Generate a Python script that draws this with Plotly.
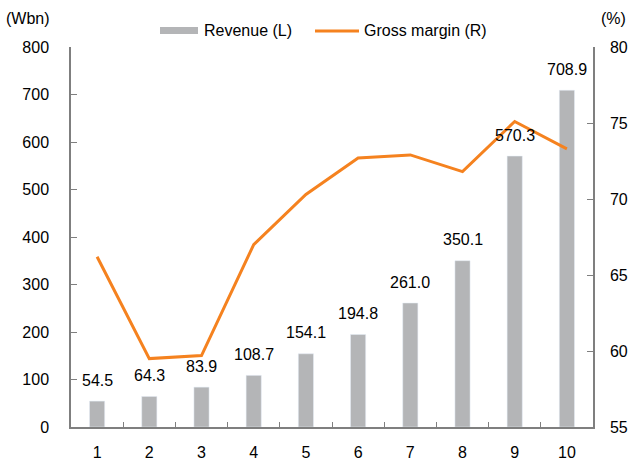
import plotly.graph_objects as go

categories = ["1", "2", "3", "4", "5", "6", "7", "8", "9", "10"]
revenue = [54.5, 64.3, 83.9, 108.7, 154.1, 194.8, 261.0, 350.1, 570.3, 708.9]
gross_margin = [66.2, 59.5, 59.7, 67.0, 70.3, 72.7, 72.9, 71.8, 75.1, 73.3]
left_ticks = [0, 100, 200, 300, 400, 500, 600, 700, 800]
right_ticks = [55, 60, 65, 70, 75, 80]

FONT = "Liberation Sans, Arial, sans-serif"
GRAY = "#b4b5b7"
ORANGE = "#f5821f"
AXIS = "#7f7f7f"

fig = go.Figure()
fig.add_trace(go.Bar(x=categories, y=revenue, marker_color=GRAY, width=0.29,
                     name="Revenue (L)", showlegend=False))
fig.add_trace(go.Scatter(x=categories, y=gross_margin, mode="lines",
                         line=dict(color=ORANGE, width=3), yaxis="y2",
                         name="Gross margin (R)", showlegend=False))

for i, v in enumerate(revenue):
    fig.add_annotation(x=i, y=v, text=f"{v:.1f}", showarrow=False, yshift=21,
                       yanchor="middle",
                       font=dict(size=16, color="#000000", family=FONT))

# legend drawn manually
fig.add_shape(type="rect", xref="paper", yref="paper", x0=(160-71)/522, x1=(198-71)/522,
              y0=(427-34)/380, y1=(427-27)/380, fillcolor=GRAY, line_width=0)
fig.add_annotation(xref="paper", yref="paper", x=(202-71)/522, y=(427-30.5)/380,
                   text="Revenue (L)", showarrow=False, xanchor="left", yanchor="middle",
                   font=dict(size=16, color="#000000", family=FONT))
fig.add_shape(type="line", xref="paper", yref="paper", x0=(315-71)/522, x1=(359-71)/522,
              y0=(427-31)/380, y1=(427-31)/380, line=dict(color=ORANGE, width=3))
fig.add_annotation(xref="paper", yref="paper", x=(362-71)/522, y=(427-30.5)/380,
                   text="Gross margin (R)", showarrow=False, xanchor="left", yanchor="middle",
                   font=dict(size=16, color="#000000", family=FONT))
fig.add_annotation(xref="paper", yref="paper", x=(28-71)/522, y=(427-18)/380,
                   text="(Wbn)", showarrow=False, xanchor="center", yanchor="middle",
                   font=dict(size=16, color="#000000", family=FONT))
fig.add_annotation(xref="paper", yref="paper", x=(613-71)/522, y=(427-18)/380,
                   text="(%)", showarrow=False, xanchor="center", yanchor="middle",
                   font=dict(size=16, color="#000000", family=FONT))

fig.update_layout(
    width=634, height=461,
    margin=dict(l=71, r=41, t=47, b=34, autoexpand=False),
    paper_bgcolor="white", plot_bgcolor="white",
    font=dict(family=FONT, size=16, color="#000000"),
    xaxis=dict(type="category", range=[-0.5, 9.5], showline=True, linecolor=AXIS, linewidth=1.5,
               ticks="inside", tickson="boundaries", ticklen=5, tickcolor=AXIS,
               ticklabelstandoff=10, automargin=False,
               showgrid=False, zeroline=False, tickfont=dict(size=16)),
    yaxis=dict(range=[0, 800], tickvals=left_ticks, showline=True, linecolor=AXIS, linewidth=1.5,
               ticks="inside", ticklen=6, tickcolor=AXIS, showgrid=False, zeroline=False,
               ticklabelstandoff=17, automargin=False, tickfont=dict(size=16)),
    yaxis2=dict(range=[55, 80], tickvals=right_ticks, overlaying="y", side="right",
                showline=True, linecolor=AXIS, linewidth=1.5, ticks="inside", ticklen=6,
                ticklabelstandoff=12, automargin=False,
                tickcolor=AXIS, showgrid=False, zeroline=False, tickfont=dict(size=16)),
    showlegend=False,
)

fig.write_html("out.html", config={"displayModeBar": False},
               post_script="document.body.style.margin='0';document.body.style.overflow='hidden';")
